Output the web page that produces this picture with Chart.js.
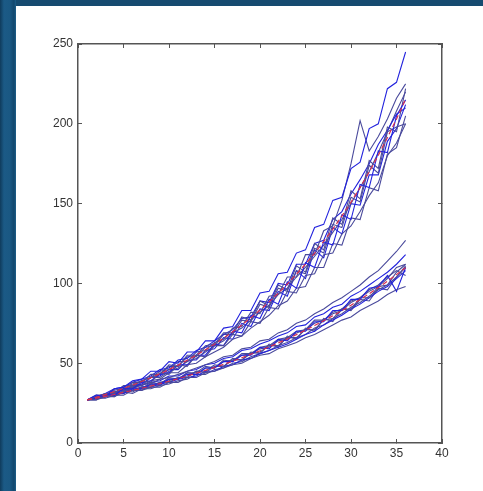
<!DOCTYPE html>
<html>
<head>
<meta charset="utf-8">
<script src="https://cdn.jsdelivr.net/npm/chart.js@4"></script>
<style>
  html, body { margin: 0; padding: 0; background: #fff; }
  body { width: 483px; height: 491px; position: relative; overflow: hidden; }
  #top { position: absolute; left: 0; top: 0; width: 483px; height: 6px; background: #164b70; }
  #left { position: absolute; left: 0; top: 0; width: 16px; height: 491px;
          background: linear-gradient(to right, #0f3b5c 0px, #1b5a86 4px, #1a5883 10px, #12476d 14px, #1e5f8a 16px); }
  #c { position: absolute; left: 0; top: 0; }
</style>
</head>
<body>
<div id="top"></div>
<div id="left"></div>
<canvas id="c" width="483" height="491"></canvas>
<script>
// x positions (time steps)
const steps = Array.from({ length: 36 }, (_, i) => i + 1);

const xTicks = [0, 5, 10, 15, 20, 25, 30, 35, 40];
const yTicks = [0, 50, 100, 150, 200, 250];

// upper family (faster growth)
const upperMean = [27, 28.6, 30.4, 32.2, 34.2, 36.3, 38.5, 40.9, 43.4, 46, 48.8, 51.8, 55, 58.4, 61.9, 65.7, 69.7, 74, 78.5, 83.3, 88.4, 93.8, 99.6, 105.7, 112.1, 119, 126.3, 134, 142.2, 150.9, 160.1, 169.9, 180.3, 191.3, 203, 215.4];
const upper1 = [27, 30, 29, 34, 35, 39, 40, 45, 45, 51, 50, 57, 57, 64, 64, 72, 73, 83, 83, 94, 95, 106, 107, 119, 121, 135, 137, 152, 154, 172, 176, 197, 200, 222, 226, 245];
const upper2 = [27, 27, 31, 31, 35, 35, 39, 38, 44, 43, 49, 48, 55, 54, 61, 61, 68, 67, 76, 75, 85, 84, 95, 94, 105, 106, 118, 119, 131, 136, 145, 155, 163, 180, 188, 200];
const upper3 = [27, 29, 31, 31, 36, 36, 39, 41, 45, 46, 51, 51, 57, 58, 63, 65, 72, 73, 82, 81, 92, 93, 104, 104, 118, 118, 133, 136, 152, 175, 202, 183, 192, 203, 216, 225];
const upper4 = [27, 28, 31, 30, 34, 34, 38, 39, 43, 44, 49, 49, 55, 55, 62, 61, 70, 69, 80, 78, 90, 87, 101, 97, 113, 110, 126, 124, 143, 140, 162, 160, 183, 182, 205, 215];
const upper5 = [27, 30, 30, 34, 33, 38, 38, 43, 43, 49, 48, 55, 55, 61, 62, 69, 69, 79, 77, 89, 86, 99, 96, 111, 107, 125, 121, 141, 137, 158, 153, 177, 172, 198, 195, 222];
const upper6 = [27, 28, 29, 31, 32, 35, 36, 39, 40, 44, 44, 49, 50, 54, 57, 60, 65, 67, 72, 76, 80, 86, 89, 97, 98, 110, 110, 125, 124, 141, 140, 160, 158, 181, 185, 205];
const upper7 = [27, 29, 31, 34, 35, 38, 40, 42, 46, 47, 52, 53, 58, 60, 64, 68, 71, 78, 79, 89, 88, 100, 99, 112, 112, 125, 127, 140, 145, 156, 165, 175, 187, 196, 206, 210];
const upper8 = [27, 28, 30, 32, 32, 36, 36, 41, 41, 45, 47, 51, 53, 57, 61, 64, 69, 72, 77, 82, 86, 93, 97, 104, 110, 117, 124, 132, 140, 150, 160, 170, 182, 195, 198, 200];
const upper9 = [27, 29, 30, 33, 34, 37, 39, 41, 43, 48, 48, 54, 54, 60, 61, 68, 68, 77, 76, 87, 85, 97, 95, 108, 106, 122, 119, 137, 135, 154, 151, 174, 169, 195, 208, 220];
const upper10 = [27, 28, 30, 31, 34, 36, 37, 41, 42, 46, 46, 52, 52, 58, 59, 66, 65, 75, 73, 84, 83, 95, 92, 108, 103, 121, 116, 135, 131, 150, 149, 168, 168, 189, 197, 212];

// lower family (slower growth)
const lowerMean = [27, 28.1, 29.2, 30.4, 31.7, 33, 34.3, 35.7, 37.2, 38.7, 40.3, 42, 43.7, 45.5, 47.3, 49.3, 51.3, 53.4, 55.6, 57.8, 60.2, 62.7, 65.2, 67.9, 70.7, 73.6, 76.6, 79.7, 82.9, 86.3, 89.9, 93.5, 97.4, 101.3, 105.5, 109.8];
const lower1 = [27, 28, 30, 31, 34, 34, 37, 37, 40, 41, 43, 45, 47, 49, 51, 54, 55, 59, 60, 64, 65, 69, 71, 75, 77, 81, 84, 88, 91, 95, 99, 104, 108, 114, 120, 127];
const lower2 = [27, 28, 28, 30, 30, 33, 33, 35, 35, 38, 38, 41, 41, 44, 45, 47, 49, 50, 53, 55, 56, 59, 61, 63, 66, 68, 71, 74, 77, 79, 83, 86, 89, 93, 96, 98];
const lower3 = [27, 29, 29, 32, 31, 34, 34, 37, 37, 40, 40, 43, 43, 47, 47, 51, 51, 55, 55, 60, 59, 65, 64, 70, 70, 76, 76, 83, 83, 90, 90, 97, 98, 105, 95, 110];
const lower4 = [27, 28, 30, 29, 33, 32, 35, 35, 38, 38, 41, 41, 45, 44, 48, 48, 52, 52, 56, 57, 61, 61, 66, 66, 71, 71, 77, 78, 84, 84, 91, 91, 98, 99, 107, 112];
const lower5 = [27, 29, 29, 32, 31, 35, 34, 38, 37, 41, 40, 44, 44, 48, 47, 52, 51, 56, 56, 60, 61, 65, 66, 70, 71, 77, 77, 82, 84, 89, 91, 96, 99, 104, 108, 105];
const lower6 = [27, 28, 30, 30, 32, 33, 35, 35, 37, 38, 40, 41, 42, 45, 45, 48, 49, 52, 53, 56, 58, 60, 62, 65, 68, 70, 74, 77, 80, 84, 87, 91, 95, 98, 103, 108];
const lower7 = [27, 28, 29, 31, 31, 34, 33, 37, 36, 40, 40, 44, 43, 47, 47, 51, 52, 55, 56, 59, 60, 64, 65, 69, 71, 75, 77, 81, 83, 88, 91, 95, 98, 103, 110, 112];
const lower8 = [27, 27, 29, 29, 32, 31, 34, 34, 36, 37, 39, 40, 43, 43, 46, 47, 50, 51, 54, 56, 58, 61, 63, 66, 68, 72, 74, 78, 81, 85, 88, 92, 96, 99, 104, 110];
const lower9 = [27, 29, 30, 32, 33, 35, 36, 38, 39, 42, 42, 45, 46, 49, 50, 53, 54, 58, 59, 62, 64, 67, 69, 73, 74, 79, 81, 85, 87, 92, 95, 99, 103, 107, 112, 118];
const lower10 = [27, 28, 29, 31, 32, 33, 35, 36, 38, 39, 41, 42, 45, 45, 49, 48, 53, 52, 57, 56, 62, 60, 67, 65, 72, 70, 78, 76, 84, 83, 90, 89, 97, 96, 104, 111];

const pathSeries = [upper1, upper2, upper3, upper4, upper5, upper6, upper7, upper8, upper9, upper10,
                    lower1, lower2, lower3, lower4, lower5, lower6, lower7, lower8, lower9, lower10];
const meanSeries = [upperMean, lowerMean];

const pair = arr => arr.map((v, i) => ({ x: steps[i], y: v }));

// first datasets are drawn on top, so the dashed means go first
const datasets = [];
meanSeries.forEach(s => {
  datasets.push({
    data: pair(s),
    borderColor: '#d8304e',
    borderWidth: 1.2,
    borderDash: [5, 3],
    pointRadius: 0,
    tension: 0
  });
});
pathSeries.forEach((s, i) => {
  datasets.push({
    data: pair(s),
    borderColor: i % 3 === 0 ? '#2222dd' : '#4a4a9c',
    borderWidth: 1.1,
    pointRadius: 0,
    tension: 0
  });
});

const tickFont = { family: '"Liberation Sans", Arial, sans-serif', size: 12 };
const axisColor = '#555555';
// inward tick marks: negative tick length, grid kept off the plot area
const boxGrid = { display: true, drawOnChartArea: false, drawTicks: true, tickLength: -4, color: axisColor, lineWidth: 1 };
const boxBorder = { display: true, color: axisColor, width: 1.5 };

new Chart(document.getElementById('c'), {
  type: 'line',
  data: { datasets },
  options: {
    responsive: false,
    animation: false,
    layout: { padding: { left: 0, top: 44, right: 41, bottom: 0 } },
    plugins: { legend: { display: false }, tooltip: { enabled: false } },
    scales: {
      x: {
        type: 'linear', position: 'bottom',
        min: 0, max: 40,
        grid: boxGrid, border: boxBorder,
        afterBuildTicks: s => { s.ticks = xTicks.map(v => ({ value: v })); },
        afterFit: s => { s.height = 48; },
        ticks: { color: '#333', font: tickFont, padding: 7, maxRotation: 0 }
      },
      xTop: {
        type: 'linear', position: 'top',
        min: 0, max: 40,
        grid: boxGrid, border: boxBorder,
        afterBuildTicks: s => { s.ticks = xTicks.map(v => ({ value: v })); },
        afterFit: s => { s.height = 0; },
        ticks: { display: false }
      },
      y: {
        type: 'linear', position: 'left',
        min: 0, max: 250,
        grid: boxGrid, border: boxBorder,
        afterBuildTicks: s => { s.ticks = yTicks.map(v => ({ value: v })); },
        afterFit: s => { s.width = 78; },
        ticks: { color: '#333', font: tickFont, padding: 9 }
      },
      yRight: {
        type: 'linear', position: 'right',
        min: 0, max: 250,
        grid: boxGrid, border: boxBorder,
        afterBuildTicks: s => { s.ticks = yTicks.map(v => ({ value: v })); },
        afterFit: s => { s.width = 0; },
        ticks: { display: false }
      }
    }
  }
});
</script>
</body>
</html>
